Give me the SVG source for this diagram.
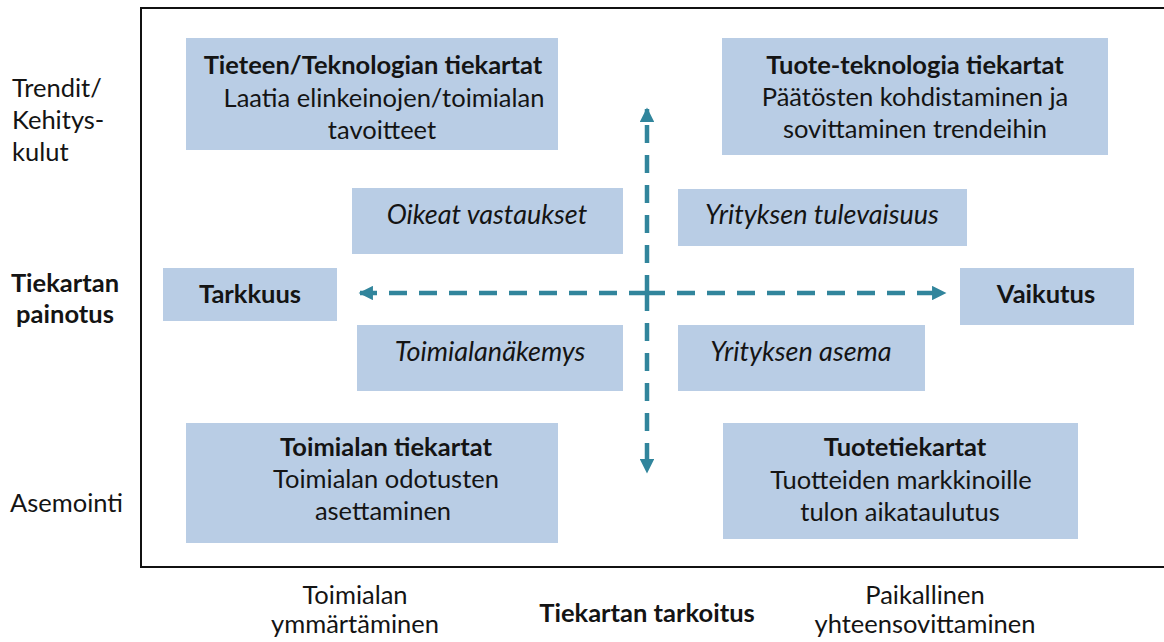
<svg xmlns="http://www.w3.org/2000/svg" width="1164" height="642" viewBox="0 0 1164 642">
<style>
.box{fill:#b9cde5}
.t{font-family:Lato,"Liberation Sans",sans-serif;font-size:25.5px;fill:#141414;text-anchor:middle}
.l{text-anchor:start}
.b{font-weight:bold}
.i{font-style:italic;font-size:27px}
.ax{stroke:#31859c;stroke-width:4.5;fill:none;stroke-dasharray:18 12}
</style>
<defs>
<marker id="ah" viewBox="0 0 10 10" refX="9" refY="5" markerWidth="3.4" markerHeight="3.2" orient="auto" markerUnits="strokeWidth">
<path d="M0,0 L10,5 L0,10 z" fill="#31859c"/>
</marker>
</defs>
<rect x="0" y="0" width="1164" height="642" fill="#fff"/>
<rect id="frame" x="141" y="8" width="1040" height="559" fill="none" stroke="#111" stroke-width="2"/>

<g id="axis-labels">
<text class="t l" x="12" y="97">Trendit/</text>
<text class="t l" x="12" y="129">Kehitys-</text>
<text class="t l" x="12" y="161">kulut</text>
<text class="t b" x="65" y="292">Tiekartan</text>
<text class="t b" x="65" y="323">painotus</text>
<text class="t l" x="10" y="512">Asemointi</text>
<text class="t" x="355" y="604">Toimialan</text>
<text class="t" x="355" y="633">ymmärtäminen</text>
<text class="t b" x="647" y="622">Tiekartan tarkoitus</text>
<text class="t" x="925" y="604">Paikallinen</text>
<text class="t" x="925" y="633">yhteensovittaminen</text>
</g>

<g id="connectors">
<line class="ax" x1="647" y1="293" x2="360" y2="293" marker-end="url(#ah)"/>
<line class="ax" x1="647" y1="293" x2="945" y2="293" marker-end="url(#ah)"/>
<line class="ax" x1="647" y1="293" x2="647" y2="109" marker-end="url(#ah)"/>
<line class="ax" x1="647" y1="293" x2="647" y2="472" marker-end="url(#ah)"/>
</g>

<g id="n-tiede">
<rect class="box" x="186" y="38" width="372" height="112"/>
<text class="t b" x="373" y="74">Tieteen/Teknologian tiekartat</text>
<text class="t" x="384" y="107">Laatia elinkeinojen/toimialan</text>
<text class="t" x="382" y="139">tavoitteet</text>
</g>
<g id="n-tuoteteknologia">
<rect class="box" x="722" y="38" width="386" height="117"/>
<text class="t b" x="915" y="74">Tuote-teknologia tiekartat</text>
<text class="t" x="915" y="106">Päätösten kohdistaminen ja</text>
<text class="t" x="915" y="138">sovittaminen trendeihin</text>
</g>
<g id="n-oikeat">
<rect class="box" x="352" y="188" width="271" height="66"/>
<text class="t i" x="487" y="224">Oikeat vastaukset</text>
</g>
<g id="n-tulevaisuus">
<rect class="box" x="678" y="189" width="289" height="57"/>
<text class="t i" x="822" y="224">Yrityksen tulevaisuus</text>
</g>
<g id="n-tarkkuus">
<rect class="box" x="163" y="268" width="174" height="53"/>
<text class="t b" x="250" y="303">Tarkkuus</text>
</g>
<g id="n-vaikutus">
<rect class="box" x="960" y="268" width="174" height="57"/>
<text class="t b" x="1046" y="303">Vaikutus</text>
</g>
<g id="n-toimialanakemys">
<rect class="box" x="357" y="325" width="266" height="66"/>
<text class="t i" x="490" y="361">Toimialanäkemys</text>
</g>
<g id="n-asema">
<rect class="box" x="678" y="325" width="247" height="66"/>
<text class="t i" x="801" y="361">Yrityksen asema</text>
</g>
<g id="n-toimiala">
<rect class="box" x="186" y="423" width="372" height="120"/>
<text class="t b" x="386" y="456">Toimialan tiekartat</text>
<text class="t" x="386" y="488">Toimialan odotusten</text>
<text class="t" x="383" y="520">asettaminen</text>
</g>
<g id="n-tuote">
<rect class="box" x="723" y="423" width="355" height="116"/>
<text class="t b" x="905" y="456">Tuotetiekartat</text>
<text class="t" x="901" y="489">Tuotteiden markkinoille</text>
<text class="t" x="900" y="521">tulon aikataulutus</text>
</g>
</svg>
